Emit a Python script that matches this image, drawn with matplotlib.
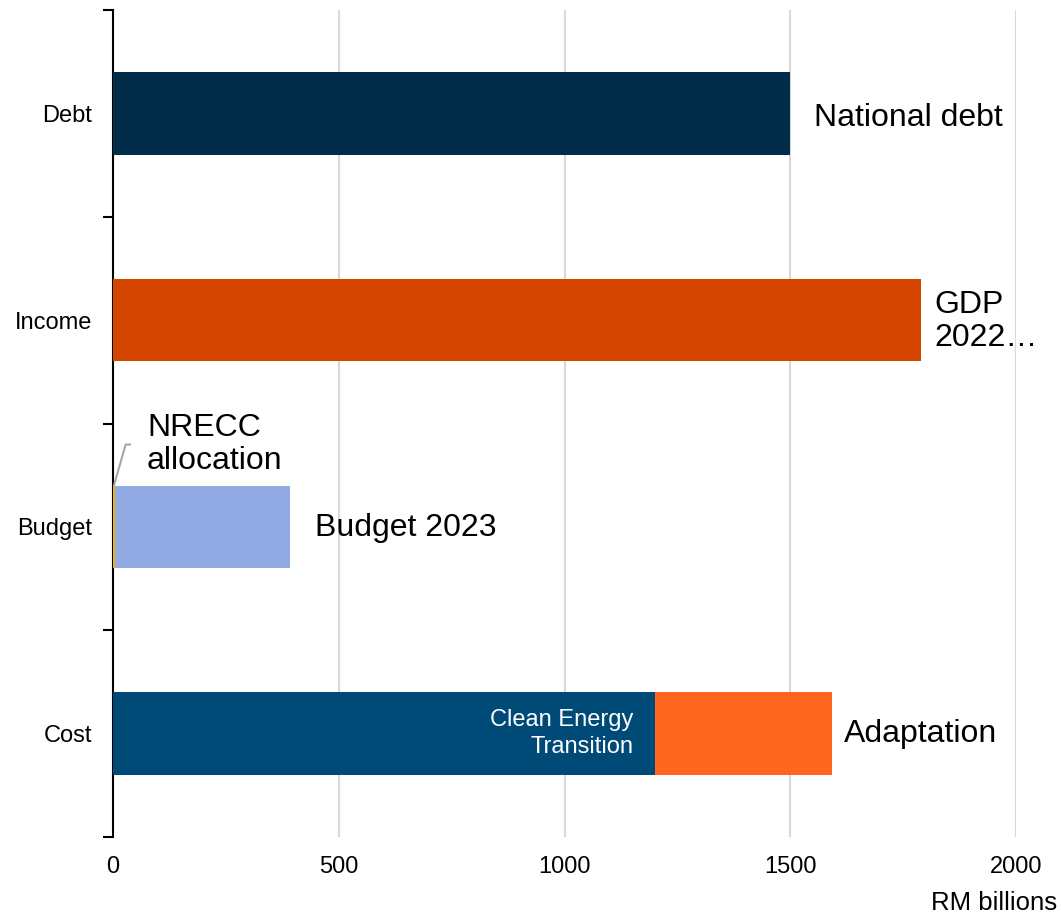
import numpy as np
import matplotlib.pyplot as plt

plt.rcParams['font.family'] = ['Liberation Sans', 'DejaVu Sans']

# Data (RM billions)
categories = ['Cost', 'Budget', 'Income', 'Debt']
debt = 1500
gdp = 1790
nrecc = 4
budget = 388
clean_energy = 1200
adaptation = 392

c_debt = '#022d4a'
c_gdp = '#d44500'
c_nrecc = '#f0b400'
c_budget = '#91aae4'
c_clean = '#004a77'
c_adapt = '#ff661f'

fig = plt.figure(figsize=(10.61, 9.17), dpi=100)
ax = fig.add_axes([113 / 1061, 1 - 837 / 917, (1016 - 113) / 1061, (837 - 10) / 917])

y = np.arange(len(categories))
h = 0.4

ax.barh(y[3], debt, height=h, color=c_debt, zorder=3)
ax.barh(y[2], gdp, height=h, color=c_gdp, zorder=3)
ax.barh(y[1], nrecc, height=h, color=c_nrecc, zorder=3)
ax.barh(y[1], budget, height=h, left=nrecc, color=c_budget, zorder=3)
ax.barh(y[0], clean_energy, height=h, color=c_clean, zorder=3)
ax.barh(y[0], adaptation, height=h, left=clean_energy, color=c_adapt, zorder=3)

big = 23
small = 17

ax.annotate('National debt', xy=(debt, y[3]), xytext=(24, -5), textcoords='offset pixels',
            ha='left', va='center', fontsize=big)
ax.annotate('GDP\n2022…', xy=(gdp, y[2]), xytext=(13, -1), textcoords='offset pixels',
            ha='left', va='center', fontsize=big, linespacing=1.12)
ax.annotate('Budget 2023', xy=(nrecc + budget, y[1]), xytext=(25, -1), textcoords='offset pixels',
            ha='left', va='center', fontsize=big)
ax.annotate('Adaptation', xy=(clean_energy + adaptation, y[0]), xytext=(12, 0), textcoords='offset pixels',
            ha='left', va='center', fontsize=big)
ax.annotate('Clean Energy\nTransition', xy=(clean_energy, y[0]), xytext=(-21, 0), textcoords='offset pixels',
            ha='right', va='center', fontsize=small, color='white', linespacing=1.27)
ax.annotate('NRECC\nallocation', xy=(nrecc / 2, y[1] + h / 2), xytext=(33, 41), textcoords='offset pixels',
            ha='left', va='center', fontsize=big, linespacing=1.12,
            arrowprops=dict(arrowstyle='-', color='#a6a6a6', lw=1.5, shrinkA=10, shrinkB=0,
                            relpos=(0, 0.5), connectionstyle='angle,angleA=0,angleB=74,rad=0'))

ax.set_xlim(0, 2000)
ax.set_ylim(-0.5, 3.5)
ax.set_xticks([0, 500, 1000, 1500, 2000])
ax.tick_params(axis='x', length=0, pad=14, labelsize=small)
ax.xaxis.grid(True, color='#d9d9d9', lw=1.5, zorder=0)

ax.set_yticks(np.arange(-0.5, 4, 1))
ax.set_yticklabels([])
ax.set_yticks(y, minor=True)
ax.set_yticklabels(categories, minor=True)
ax.tick_params(axis='y', which='major', length=7, width=1.5, direction='out')
ax.tick_params(axis='y', which='minor', length=0, pad=15, labelsize=small)

for s in ['top', 'right', 'bottom']:
    ax.spines[s].set_visible(False)
ax.spines['left'].set_linewidth(1.5)
ax.set_axisbelow(True)

fig.text(1057 / 1061, 1 - 903 / 917, 'RM billions', ha='right', va='center', fontsize=18.5)

fig.savefig('out.png', dpi=100)
